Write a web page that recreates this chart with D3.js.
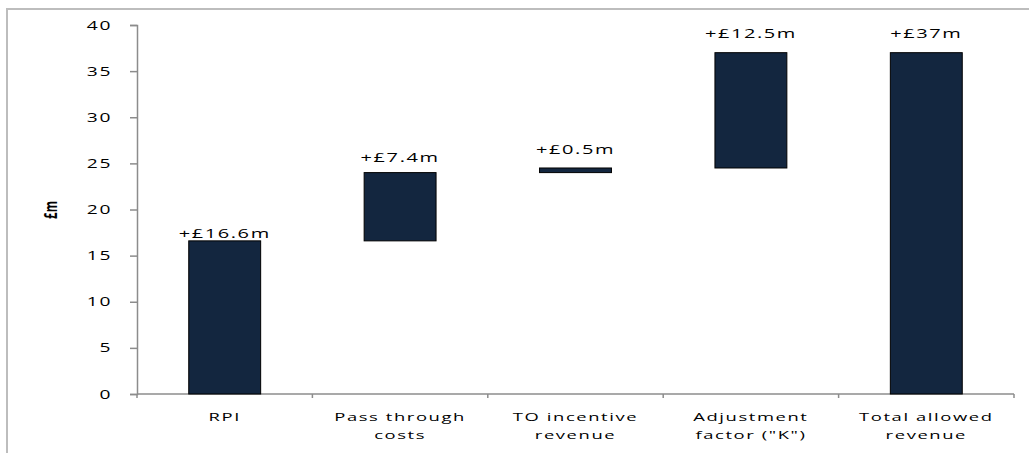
<!DOCTYPE html>
<html>
<head>
<meta charset="utf-8">
<script src="https://cdn.jsdelivr.net/npm/d3@7"></script>
<style>
  html, body { margin: 0; padding: 0; background: #fff; }
  svg { display: block; }
  text { font-family: "Open Sans", "Noto Sans", sans-serif; fill: #000; }
</style>
</head>
<body>
<svg id="chart" width="1029" height="453"></svg>
<script>
// Revenue bridge (£m): each step adds to the running total
const categories = [["RPI"], ["Pass through", "costs"], ["TO incentive", "revenue"], ["Adjustment", "factor (\"K\")"], ["Total allowed", "revenue"]];
const increments = [16.6, 7.4, 0.5, 12.5, null];   // null = total bar
const valueLabels = ["+£16.6m", "+£7.4m", "+£0.5m", "+£12.5m", "+£37m"];
const totalValue = 37;
const yTicks = [0, 5, 10, 15, 20, 25, 30, 35, 40];

const svg = d3.select("#chart");
const W = 1029, H = 453;
const plot = { left: 137, right: 1014, top: 25, bottom: 394 };
const sx = 1.6;           // horizontal stretch of all lettering
const axisColor = "#8c8c8c";
const barFill = "#13263f";

// outer frame
svg.append("rect")
  .attr("x", 7).attr("y", 9)
  .attr("width", W + 20).attr("height", H + 20)
  .attr("fill", "none").attr("stroke", "#bdbdbd").attr("stroke-width", 2);

// waterfall segments
let running = 0;
const segments = increments.map((inc, i) => {
  let lo, hi;
  if (inc === null) { lo = 0; hi = totalValue; }
  else { lo = running; hi = running + inc; running = hi; }
  return { i, lo, hi, label: valueLabels[i] };
});

const x = d3.scaleBand()
  .domain(d3.range(categories.length))
  .range([plot.left, plot.right])
  .padding(0);

const y = d3.scaleLinear()
  .domain([0, 40])
  .range([plot.bottom, plot.top]);

const barW = x.bandwidth() * 0.41;

// y axis
const yAxis = d3.axisLeft(y).tickValues(yTicks).tickSize(7).tickFormat("");
const gy = svg.append("g").attr("transform", `translate(${plot.left},0)`).call(yAxis);
gy.select(".domain").attr("stroke", axisColor).attr("stroke-width", 1.5);
gy.selectAll(".tick line").attr("stroke", axisColor).attr("stroke-width", 1.5);

svg.append("g").selectAll("text")
  .data(yTicks)
  .join("text")
  .attr("transform", d => `translate(112,${y(d) + 4.5}) scale(${sx},1)`)
  .attr("text-anchor", "end")
  .attr("font-size", 12)
  .attr("letter-spacing", 1)
  .text(d => d);

// y axis title
svg.append("text")
  .attr("transform", `translate(57,210) scale(${sx},1) rotate(-90)`)
  .attr("text-anchor", "middle")
  .attr("font-size", 11.5)
  .attr("font-weight", "bold")
  .text("£m");

// x axis line with category boundary ticks
svg.append("line")
  .attr("x1", plot.left).attr("x2", plot.right)
  .attr("y1", y(0)).attr("y2", y(0))
  .attr("stroke", axisColor).attr("stroke-width", 1.5);

const boundaries = d3.range(categories.length + 1).map(k => plot.left + k * x.step());
svg.append("g").selectAll("line")
  .data(boundaries)
  .join("line")
  .attr("x1", d => d).attr("x2", d => d)
  .attr("y1", y(0)).attr("y2", y(0) + 4)
  .attr("stroke", axisColor).attr("stroke-width", 1.5);

// bars
svg.append("g").selectAll("rect")
  .data(segments)
  .join("rect")
  .attr("x", d => x(d.i) + x.bandwidth() / 2 - barW / 2)
  .attr("y", d => y(d.hi))
  .attr("width", barW)
  .attr("height", d => y(d.lo) - y(d.hi))
  .attr("fill", barFill)
  .attr("stroke", "#000")
  .attr("stroke-width", 1);

// value labels above each bar
const labelGap = [3, 11, 14, 15, 15];
svg.append("g").selectAll("text")
  .data(segments)
  .join("text")
  .attr("transform", d => `translate(${x(d.i) + x.bandwidth() / 2},${y(d.hi) - labelGap[d.i]}) scale(${sx},1)`)
  .attr("text-anchor", "middle")
  .attr("font-size", 12.5)
  .attr("letter-spacing", 1)
  .text(d => d.label);

// category labels (wrapped onto two lines where needed)
const cat = svg.append("g").selectAll("g")
  .data(categories)
  .join("g");
cat.each(function (lines, i) {
  const g = d3.select(this);
  lines.forEach((ln, j) => {
    g.append("text")
      .attr("transform", `translate(${x(i) + x.bandwidth() / 2},${421 + j * 17.5}) scale(${sx},1)`)
      .attr("text-anchor", "middle")
      .attr("font-size", 11.5)
      .attr("letter-spacing", 1)
      .text(ln);
  });
});
</script>
</body>
</html>
